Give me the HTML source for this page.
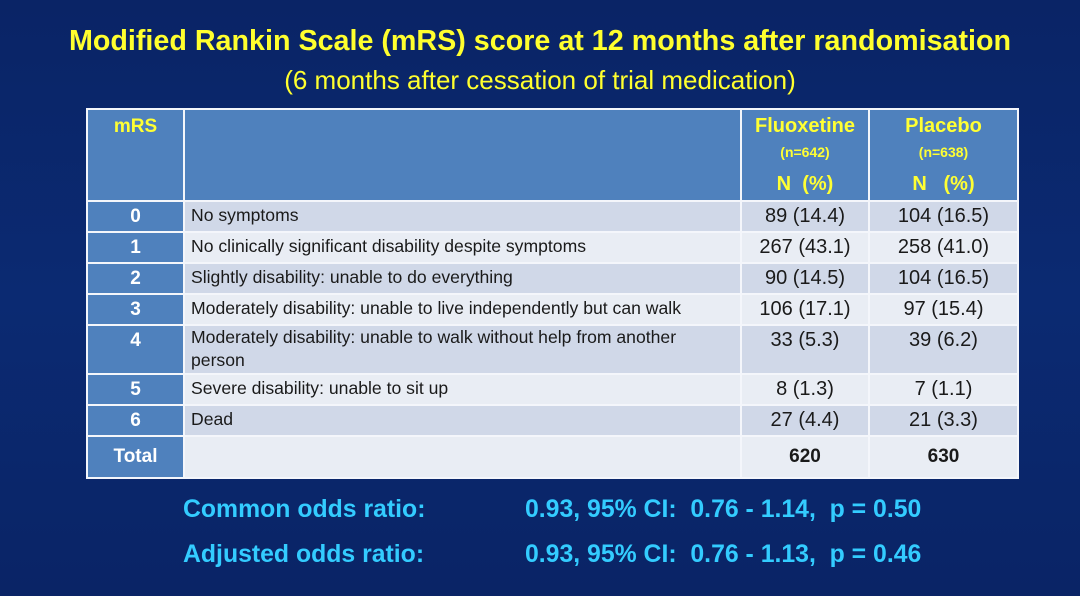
<!DOCTYPE html>
<html><head><meta charset="utf-8"><style>
body{margin:0;width:1080px;height:596px;overflow:hidden;background:linear-gradient(180deg,#0a2466 0%,#0b2a72 50%,#0a2466 100%);font-family:"Liberation Sans",sans-serif;position:relative}
.t{position:absolute;left:0;width:1080px;text-align:center;color:#ffff2e;font-weight:bold;white-space:nowrap}
table{position:absolute;left:86px;top:108px;border-collapse:collapse;table-layout:fixed}
td{border:2px solid #f4f6fb;padding:0;font-size:17px;color:#1a1a1a;vertical-align:middle}
td.m{background:#4f81bd;color:#fff;font-weight:bold;font-size:19px;text-align:center}
td.v{text-align:center;font-size:20px}
tr.d td.x{background:#d0d8e8}
tr.l td.x{background:#e9edf4}
td.d{padding-left:6px;padding-right:30px;vertical-align:top;padding-top:1px;line-height:24px;font-size:17.6px}
.h td{background:#4f81bd;color:#ffff33;font-weight:bold;vertical-align:top;text-align:center}
.b{position:absolute;color:#33ccff;font-weight:bold;font-size:24.8px;white-space:nowrap}
</style></head><body>
<div class="t" style="top:25px;font-size:28.7px">Modified Rankin Scale (mRS) score at 12 months after randomisation</div>
<div class="t" style="top:65px;font-size:26px;font-weight:normal">(6 months after cessation of trial medication)</div>
<table>
<colgroup><col style="width:97px"><col style="width:557px"><col style="width:128px"><col style="width:149px"></colgroup>
<tr class="h" style="height:92px">
<td style="font-size:19px;padding-top:6px">mRS</td><td></td>
<td style="padding-top:5px"><div style="font-size:20px">Fluoxetine</div><div style="font-size:14px;margin-top:6px">(n=642)</div><div style="font-size:20px;margin-top:13px">N&nbsp; (%)</div></td>
<td style="padding-top:5px"><div style="font-size:20px">Placebo</div><div style="font-size:14px;margin-top:6px">(n=638)</div><div style="font-size:20px;margin-top:13px">N&nbsp;&nbsp; (%)</div></td></tr>
<tr class="d" style="height:31px"><td class="m">0</td><td class="x d">No symptoms</td><td class="x v">89 (14.4)</td><td class="x v">104 (16.5)</td></tr>
<tr class="l" style="height:31px"><td class="m">1</td><td class="x d">No clinically significant disability despite symptoms</td><td class="x v">267 (43.1)</td><td class="x v">258 (41.0)</td></tr>
<tr class="d" style="height:31px"><td class="m">2</td><td class="x d">Slightly disability: unable to do everything</td><td class="x v">90 (14.5)</td><td class="x v">104 (16.5)</td></tr>
<tr class="l" style="height:31px"><td class="m">3</td><td class="x d">Moderately disability: unable to live independently but can walk</td><td class="x v">106 (17.1)</td><td class="x v">97 (15.4)</td></tr>
<tr class="d" style="height:49px"><td class="m" style="vertical-align:top;padding-top:4px">4</td><td class="x d" style="padding-top:0px;line-height:23px">Moderately disability: unable to walk without help from another person</td><td class="x v" style="vertical-align:top;padding-top:3px">33 (5.3)</td><td class="x v" style="vertical-align:top;padding-top:3px">39 (6.2)</td></tr>
<tr class="l" style="height:31px"><td class="m">5</td><td class="x d">Severe disability: unable to sit up</td><td class="x v">8 (1.3)</td><td class="x v">7 (1.1)</td></tr>
<tr class="d" style="height:31px"><td class="m">6</td><td class="x d">Dead</td><td class="x v">27 (4.4)</td><td class="x v">21 (3.3)</td></tr>
<tr class="l" style="height:42px"><td class="m">Total</td><td class="x"></td><td class="x v" style="font-weight:bold;font-size:19px">620</td><td class="x v" style="font-weight:bold;font-size:19px">630</td></tr>
</table>
<div class="b" style="left:183px;top:496px">Common odds ratio:</div>
<div class="b" style="left:525px;top:496px">0.93, 95% CI:&nbsp; 0.76 - 1.14,&nbsp; p = 0.50</div>
<div class="b" style="left:183px;top:541px">Adjusted odds ratio:</div>
<div class="b" style="left:525px;top:541px">0.93, 95% CI:&nbsp; 0.76 - 1.13,&nbsp; p = 0.46</div>
</body></html>
